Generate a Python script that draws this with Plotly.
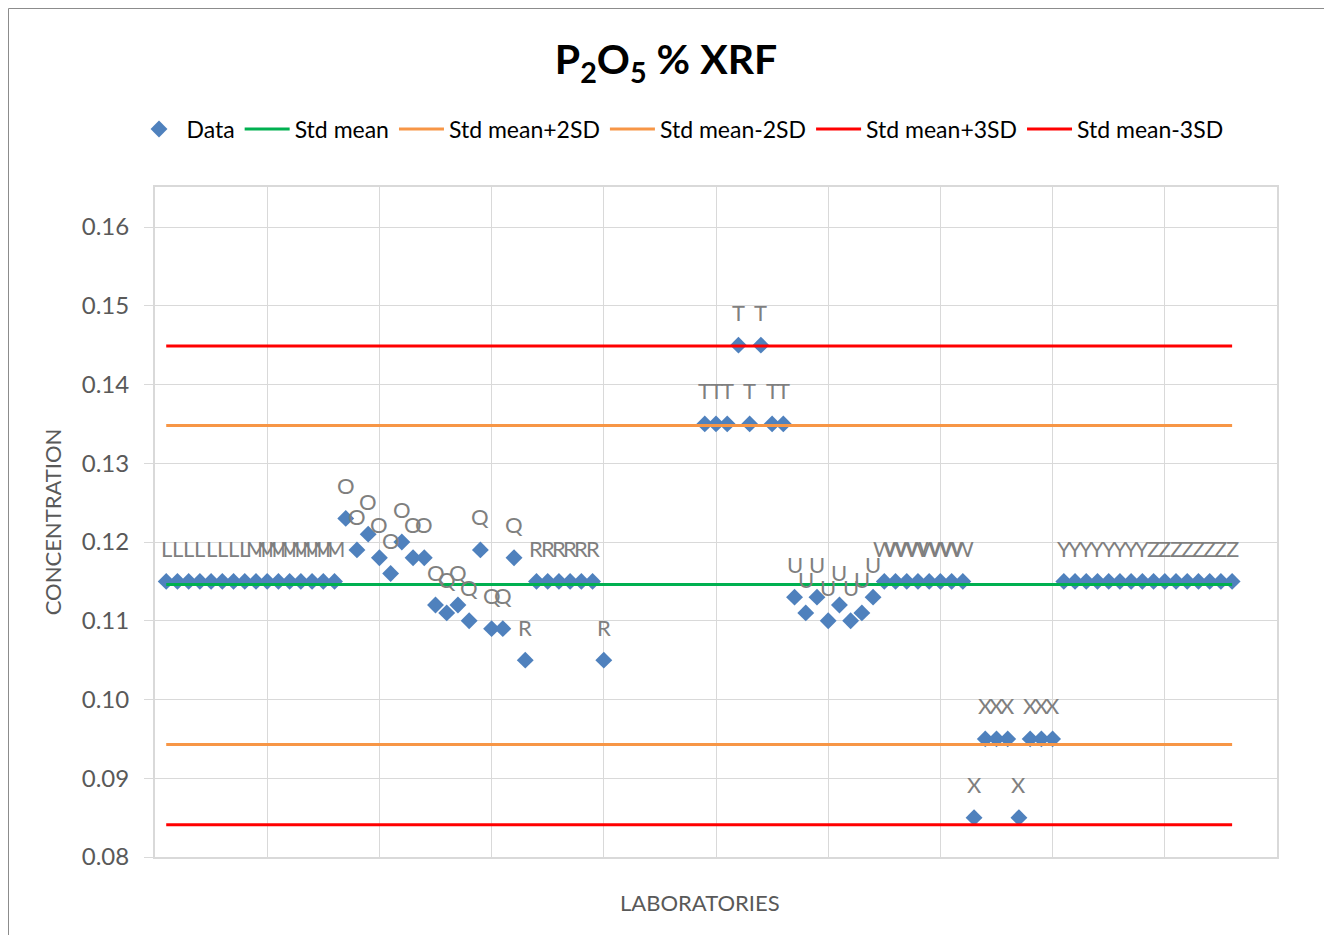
import plotly.graph_objects as go

# ---- data ----
lab_codes = ["L", "M", "O", "Q", "R", "S", "T", "U", "W", "X", "Y", "Z"]
lab_L = [0.115, 0.115, 0.115, 0.115, 0.115, 0.115, 0.115, 0.115]
lab_M = [0.115, 0.115, 0.115, 0.115, 0.115, 0.115, 0.115, 0.115]
lab_O = [0.123, 0.119, 0.121, 0.118, 0.116, 0.120, 0.118, 0.118]
lab_Q = [0.112, 0.111, 0.112, 0.110, 0.119, 0.109, 0.109, 0.118]
lab_R = [0.105, 0.115, 0.115, 0.115, 0.115, 0.115, 0.115, 0.105]
lab_S = [None, None, None, None, None, None, None, None]
lab_T = [0.135, 0.135, 0.135, 0.145, 0.135, 0.145, 0.135, 0.135]
lab_U = [0.113, 0.111, 0.113, 0.110, 0.112, 0.110, 0.111, 0.113]
lab_W = [0.115, 0.115, 0.115, 0.115, 0.115, 0.115, 0.115, 0.115]
lab_X = [0.085, 0.095, 0.095, 0.095, 0.085, 0.095, 0.095, 0.095]
lab_Y = [0.115, 0.115, 0.115, 0.115, 0.115, 0.115, 0.115, 0.115]
lab_Z = [0.115, 0.115, 0.115, 0.115, 0.115, 0.115, 0.115, 0.115]

std_mean = 0.1146
std_mean_p2sd = 0.1348
std_mean_m2sd = 0.0943
std_mean_p3sd = 0.1449
std_mean_m3sd = 0.0841

y_ticks = [0.08, 0.09, 0.10, 0.11, 0.12, 0.13, 0.14, 0.15, 0.16]

# ---- assemble ----
groups = [lab_L, lab_M, lab_O, lab_Q, lab_R, lab_S, lab_T, lab_U, lab_W, lab_X, lab_Y, lab_Z]
values, labels = [], []
for code, g in zip(lab_codes, groups):
    values.extend(g)
    labels.extend([code] * len(g))
xs = list(range(1, len(values) + 1))
x_span = [xs[0], xs[-1]]

FONT = "Lato, 'Open Sans', sans-serif"
OFF = 8  # page body margin
W, H = 1316, 927
L, T = 155 - OFF, 187 - OFF
R = W - (1277 - OFF)
B = H - (857 - OFF)
PW, PH = W - L - R, H - T - B

fig = go.Figure()
fig.add_trace(go.Scatter(
    x=xs, y=values, mode="markers", name="Data",
    marker=dict(symbol="diamond", size=13, color="#4F81BD", line=dict(width=0)),
))
for name, val, col in [
    ("Std mean", std_mean, "#00B050"),
    ("Std mean+2SD", std_mean_p2sd, "#F79646"),
    ("Std mean-2SD", std_mean_m2sd, "#F79646"),
    ("Std mean+3SD", std_mean_p3sd, "#FF0000"),
    ("Std mean-3SD", std_mean_m3sd, "#FF0000"),
]:
    fig.add_trace(go.Scatter(x=x_span, y=[val, val], mode="lines", name=name,
                             line=dict(color=col, width=3)))

# data labels
for x, y, lab in zip(xs, values, labels):
    if y is None:
        continue
    fig.add_annotation(x=x, y=y, text=lab, showarrow=False, yshift=33,
                       font=dict(family=FONT, size=22, color="#7F7F7F"))

# x-axis title (Excel places it slightly left of plot centre)
fig.add_annotation(xref="paper", yref="paper", x=(700 - 155) / PW, y=1 - (902 - 187) / PH,
                   text="LABORATORIES", showarrow=False, xanchor="center", yanchor="middle",
                   font=dict(family=FONT, size=22, color="#595959"))

# outer chart border
fig.add_shape(type="rect", xref="paper", yref="paper",
              x0=(0.5 - L) / PW, x1=(1317 - L) / PW,
              y0=1 - (H + 5 - T) / PH, y1=1 - (0.5 - T) / PH,
              line=dict(color="#8C8C8C", width=1), layer="below")

fig.update_layout(
    width=W, height=H,
    margin=dict(l=L, r=R, t=T, b=B),
    paper_bgcolor="white", plot_bgcolor="white",
    font=dict(family=FONT, color="#595959"),
    title=dict(text="<b>P<sub>2</sub>O<sub>5</sub> % XRF</b>", x=(666 - OFF) / W, xanchor="center",
               y=1 - (60 - OFF) / H, yanchor="middle", yref="container",
               font=dict(family=FONT, size=41, color="#000000")),
    legend=dict(orientation="h", x=(680 - 155) / PW, xanchor="center",
                y=1 + (187 - 129) / PH, yanchor="middle",
                font=dict(family=FONT, size=23, color="#000000"),
                itemwidth=45, tracegroupgap=0),
    showlegend=True,
)
fig.update_xaxes(range=[0, 100], dtick=10, tick0=0, showticklabels=False,
                 showgrid=True, gridcolor="#D9D9D9", gridwidth=1,
                 showline=True, linecolor="#D9D9D9", linewidth=2, mirror=True,
                 zeroline=False)
fig.update_yaxes(range=[0.08, 0.16508], tickvals=y_ticks, tickformat=".2f",
                 showgrid=True, gridcolor="#D9D9D9", gridwidth=1,
                 showline=True, linecolor="#D9D9D9", linewidth=2, mirror=True,
                 zeroline=False,
                 ticks="outside", ticklen=9, tickcolor="#D9D9D9", tickwidth=1,
                 ticklabelstandoff=10,
                 tickfont=dict(family=FONT, size=24, color="#595959"),
                 title=dict(text="CONCENTRATION", font=dict(family=FONT, size=22, color="#595959"),
                            standoff=14))

fig.write_html("out.html")
